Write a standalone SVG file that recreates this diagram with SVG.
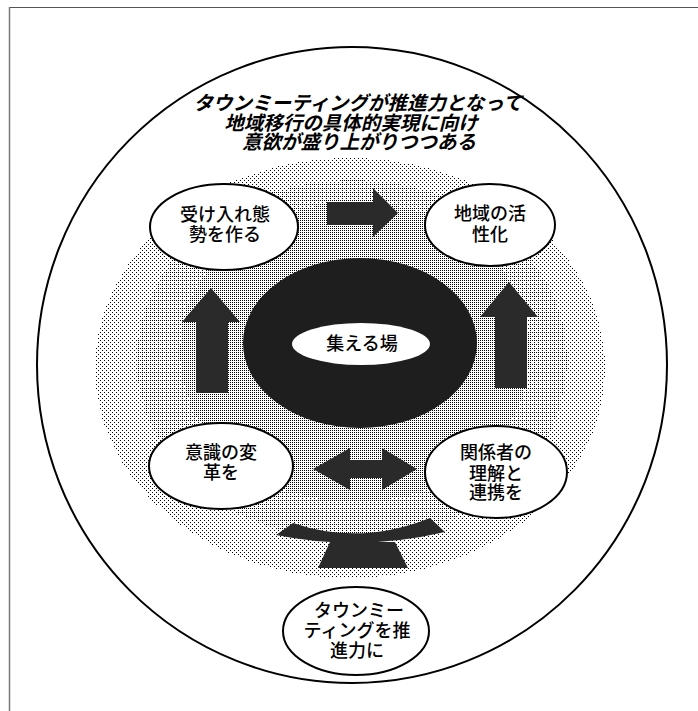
<svg xmlns="http://www.w3.org/2000/svg" width="698" height="711" viewBox="0 0 698 711">
<defs>
<pattern id="p1" width="4" height="4" patternUnits="userSpaceOnUse"><rect x="0" y="0" width="1" height="1" fill="#000"/><rect x="2" y="2" width="1" height="1" fill="#000"/></pattern>
<pattern id="p2" width="4" height="4" patternUnits="userSpaceOnUse"><rect x="0" y="0" width="1" height="1" fill="#000"/><rect x="2" y="2" width="1" height="1" fill="#000"/><rect x="2" y="0" width="1" height="1" fill="#000"/></pattern>
<pattern id="p3" width="2" height="2" patternUnits="userSpaceOnUse"><rect x="0" y="0" width="1" height="1" fill="#000"/></pattern>
<style>
.node ellipse{fill:#fff;stroke:#000;stroke-width:2}
.lbl{font-family:'Noto Sans CJK JP','Noto Sans CJK SC',sans-serif;font-size:18px;font-weight:500;text-anchor:middle;fill:#000}
.title{font-family:'Noto Sans CJK JP','Noto Sans CJK SC',sans-serif;font-size:19.5px;font-weight:bold;font-style:italic;text-anchor:middle;fill:#000}
.arr{fill:#2a2a2a}
.stip{shape-rendering:crispEdges}
</style>
</defs>
<rect width="698" height="711" fill="#fff"/>
<line x1="9" y1="7.5" x2="698" y2="7.5" stroke="#555" stroke-width="1"/>
<line x1="9.5" y1="7" x2="9.5" y2="711" stroke="#777" stroke-width="1.5"/>
<ellipse id="outer" cx="352" cy="365" rx="315" ry="318" fill="#fff" stroke="#000" stroke-width="2"/>
<g id="stipple" class="stip">
<ellipse cx="350" cy="368" rx="255" ry="210" fill="url(#p1)"/>
<ellipse cx="352" cy="360" rx="215" ry="180" fill="url(#p2)"/>
<ellipse cx="355" cy="352" rx="175" ry="150" fill="url(#p3)"/>
</g>
<g id="title">
<text class="title" x="358" y="110">タウンミーティングが推進力となって</text>
<text class="title" x="351" y="130">地域移行の具体的実現に向け</text>
<text class="title" x="359" y="149">意欲が盛り上がりつつある</text>
</g>
<g id="connectors">
<path class="arr" fill="#3a3a3a" d="M327,202 L373,202 L373,188 L398,213 L373,237 L373,225 L327,225 Z"/>
<path class="arr" d="M196,393 L196,322 L182,322 L211,288 L240,322 L228,322 L228,393 Z"/>
<path class="arr" d="M495,388 L495,317 L480,317 L509,282 L538,317 L527,317 L527,388 Z"/>
<path class="arr" d="M313,469 L350,448 L350,460 L382,460 L382,448 L417,469 L382,490 L382,478 L350,478 L350,490 Z"/>
<path class="arr" d="M276,535 L293,523 Q360,546 430,518 L445,532 Q360,552 276,535 Z"/>
<path class="arr" d="M330,542 L395,542 L408,568 L318,568 Z"/>
</g>
<g id="hub">
<ellipse cx="360" cy="343" rx="117" ry="85" fill="#1e1e1e"/>
<ellipse cx="361" cy="344" rx="69" ry="21" fill="#fff"/>
<text class="lbl" x="362" y="350" font-weight="bold">集える場</text>
</g>
<g id="n1" class="node">
<ellipse cx="224" cy="227" rx="74" ry="43"/>
<text class="lbl" x="225" y="221">受け入れ態</text>
<text class="lbl" x="225" y="241">勢を作る</text>
</g>
<g id="n2" class="node">
<ellipse cx="490" cy="225" rx="65" ry="41"/>
<text class="lbl" x="490" y="220">地域の活</text>
<text class="lbl" x="490" y="241">性化</text>
</g>
<g id="n3" class="node">
<ellipse cx="221" cy="466" rx="72" ry="43"/>
<text class="lbl" x="221" y="459">意識の変</text>
<text class="lbl" x="221" y="479">革を</text>
</g>
<g id="n4" class="node">
<ellipse cx="496" cy="472" rx="71" ry="46"/>
<text class="lbl" x="496" y="459">関係者の</text>
<text class="lbl" x="496" y="480">理解と</text>
<text class="lbl" x="496" y="499">連携を</text>
</g>
<g id="n5" class="node">
<ellipse cx="356" cy="631" rx="73" ry="44"/>
<text class="lbl" x="359" y="617">タウンミー</text>
<text class="lbl" x="357" y="637">ティングを推</text>
<text class="lbl" x="357" y="657">進力に</text>
</g>
</svg>
